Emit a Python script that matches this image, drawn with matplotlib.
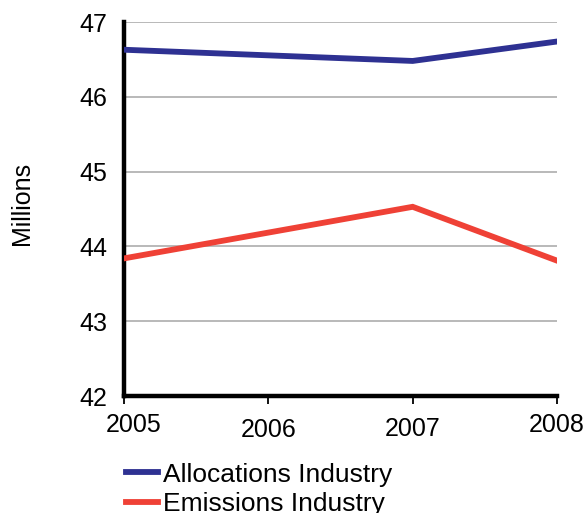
import matplotlib
matplotlib.use("Agg")
import matplotlib.pyplot as plt
import matplotlib.transforms as mtransforms

# Series data (millions)
years = [2005, 2007, 2008]
allocations = [46.63, 46.48, 46.74]
emissions = [43.84, 44.53, 43.81]

x_ticks = [2005, 2006, 2007, 2008]
y_ticks = [42, 43, 44, 45, 46, 47]

blue = "#2e3192"
red = "#ef4136"

plt.rcParams.update({
    "font.family": ["Liberation Sans", "DejaVu Sans"],
    "font.size": 18,
})

fig = plt.figure(figsize=(5.87, 5.13), dpi=100)
ax = fig.add_axes([0.211, 0.228, 0.738, 0.729])

ax.plot(years, allocations, color=blue, linewidth=4.2,
        solid_joinstyle="miter", label="Allocations Industry", zorder=3)
ax.plot(years, emissions, color=red, linewidth=4.2,
        solid_joinstyle="miter", label="Emissions Industry", zorder=3)

ax.set_xlim(2005, 2008)
ax.set_ylim(42, 47)
ax.set_xticks(x_ticks)
ax.set_xticklabels([str(y) for y in x_ticks])
ax.set_yticks(y_ticks)

ax.grid(axis="y", color="#b3b3b3", linewidth=1.3)
ax.set_axisbelow(True)

for side in ["top", "right"]:
    ax.spines[side].set_visible(False)
for side in ["left", "bottom"]:
    ax.spines[side].set_linewidth(3.2)
    ax.spines[side].set_color("black")
    ax.spines[side].set_capstyle("projecting")

ax.tick_params(axis="y", length=0, pad=12)
ax.tick_params(axis="x", direction="out", length=6, width=1.3, pad=6)

# stagger the year labels a little
pads = [6, 10, 9, 6]
for tick, p in zip(ax.xaxis.get_major_ticks(), pads):
    tick.set_pad(p)
first = ax.get_xticklabels()[0]
first.set_transform(first.get_transform() +
                    mtransforms.ScaledTranslation(10 / 100, 0, fig.dpi_scale_trans))

fig.text(0.038, 0.604, "Millions", rotation=90, ha="center", va="center",
         fontsize=18)

fig.legend(loc="lower left", bbox_to_anchor=(0.197, -0.026), frameon=False,
           handlelength=1.2, handletextpad=0.2, labelspacing=0.2,
           borderaxespad=0, fontsize=19)

fig.savefig("out.png", dpi=100)
